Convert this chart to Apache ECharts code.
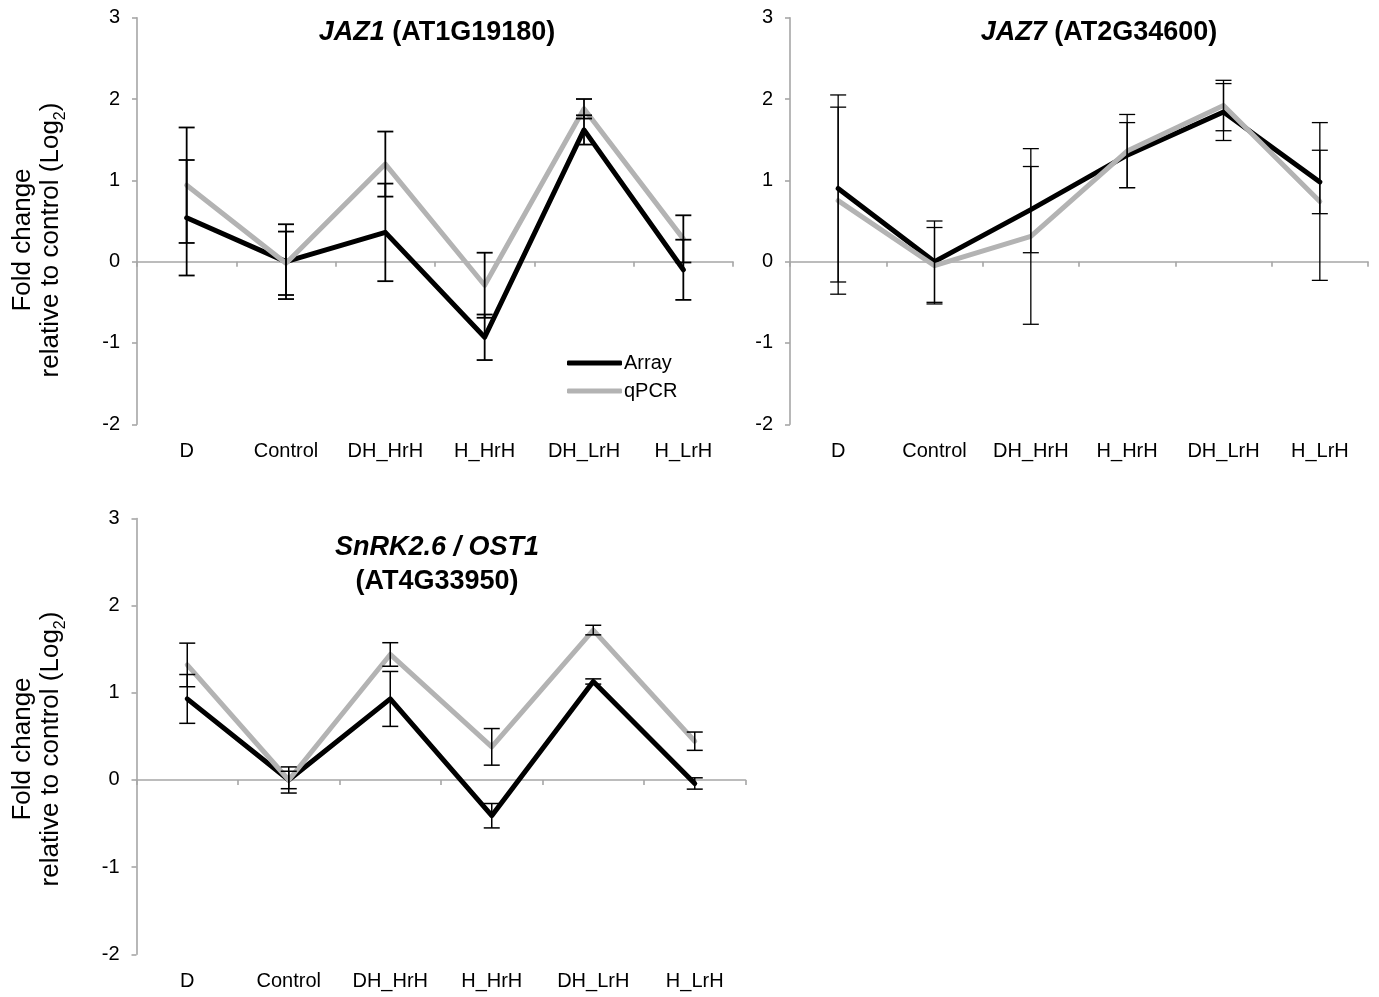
<!DOCTYPE html>
<html>
<head>
<meta charset="utf-8">
<script src="https://cdn.jsdelivr.net/npm/echarts@6/dist/echarts.min.js"></script>
<style>
html,body{margin:0;padding:0;background:#fff;}
#chart{width:1379px;height:997px;}
</style>
</head>
<body>
<div id="chart"></div>
<script>
// ---------- DATA ----------
const categories = ['D', 'Control', 'DH_HrH', 'H_HrH', 'DH_LrH', 'H_LrH'];
const yTicks = [-2, -1, 0, 1, 2, 3];

// JAZ1 (AT1G19180)
const jaz1Array    = [0.54, 0.00, 0.36, -0.93, 1.62, -0.10];
const jaz1ArrayErr = [0.71, 0.46, 0.60, 0.28, 0.18, 0.37];
const jaz1Qpcr     = [0.94, -0.02, 1.20, -0.29, 1.88, 0.28];
const jaz1QpcrErr  = [0.71, 0.39, 0.40, 0.40, 0.12, 0.29];

// JAZ7 (AT2G34600)
const jaz7Array    = [0.90, 0.00, 0.64, 1.31, 1.84, 0.98];
const jaz7ArrayErr = [1.15, 0.50, 0.53, 0.40, 0.35, 0.39];
const jaz7Qpcr     = [0.75, -0.05, 0.31, 1.36, 1.92, 0.74];
const jaz7QpcrErr  = [1.15, 0.47, 1.08, 0.45, 0.31, 0.97];

// SnRK2.6 / OST1 (AT4G33950)
const ost1Array    = [0.93, 0.00, 0.93, -0.41, 1.13, -0.04];
const ost1ArrayErr = [0.28, 0.15, 0.315, 0.14, 0.03, 0.065];
const ost1Qpcr     = [1.32, 0.00, 1.44, 0.38, 1.72, 0.445];
const ost1QpcrErr  = [0.25, 0.10, 0.135, 0.21, 0.055, 0.105];

const seriesNames = ['Array', 'qPCR'];

// ---------- LAYOUT / STYLE ----------
const FONT = "'Liberation Sans', Arial, sans-serif";
const BLACK = '#000000';
const GRAY = '#b3b3b3';
const AXIS = '#a6a6a6';

const panels = [
  { grid: { left: 137, top: 17.7, width: 596, height: 406.6 },
    array: jaz1Array, arrayErr: jaz1ArrayErr, qpcr: jaz1Qpcr, qpcrErr: jaz1QpcrErr, errW: 1.8 },
  { grid: { left: 790, top: 17.7, width: 578, height: 406.6 },
    array: jaz7Array, arrayErr: jaz7ArrayErr, qpcr: jaz7Qpcr, qpcrErr: jaz7QpcrErr, errW: 1.3 },
  { grid: { left: 136.5, top: 518.5, width: 609, height: 435.8 },
    array: ost1Array, arrayErr: ost1ArrayErr, qpcr: ost1Qpcr, qpcrErr: ost1QpcrErr, errW: 1.5 }
];

function errRender(lw) {
  return function (params, api) {
    const i = api.value(0);
    const lo = api.coord([i, api.value(1)]);
    const hi = api.coord([i, api.value(2)]);
    const hw = 8;
    const st = { stroke: '#000', lineWidth: lw };
    return {
      type: 'group',
      children: [
        { type: 'line', shape: { x1: lo[0], y1: lo[1], x2: hi[0], y2: hi[1] }, style: st },
        { type: 'line', shape: { x1: hi[0] - hw, y1: hi[1], x2: hi[0] + hw, y2: hi[1] }, style: st },
        { type: 'line', shape: { x1: lo[0] - hw, y1: lo[1], x2: lo[0] + hw, y2: lo[1] }, style: st }
      ]
    };
  };
}

const grid = [], xAxis = [], yAxis = [], series = [];
panels.forEach((p, g) => {
  grid.push(Object.assign({ containLabel: false }, p.grid));
  // zero line axis with ticks
  xAxis.push({
    type: 'category', gridIndex: g, data: categories, boundaryGap: true,
    axisLine: { show: true, onZero: true, lineStyle: { color: AXIS, width: 1.6 } },
    axisTick: { show: true, length: 5, interval: 0, lineStyle: { color: AXIS, width: 1.6 } },
    axisLabel: { show: false }, splitLine: { show: false }
  });
  // bottom label axis
  xAxis.push({
    type: 'category', gridIndex: g, data: categories, boundaryGap: true, position: 'bottom',
    axisLine: { show: false, onZero: false }, axisTick: { show: false },
    axisLabel: { show: true, interval: 0, hideOverlap: false, margin: 17, fontSize: 20, fontFamily: FONT, color: '#000' },
    splitLine: { show: false }
  });
  yAxis.push({
    type: 'value', gridIndex: g, min: yTicks[0], max: yTicks[yTicks.length - 1], interval: 1,
    axisLine: { show: true, lineStyle: { color: AXIS, width: 1.6 } },
    axisTick: { show: true, length: 5, lineStyle: { color: AXIS, width: 1.6 } },
    axisLabel: { show: true, margin: 17, fontSize: 20, fontFamily: FONT, color: '#000' },
    splitLine: { show: false }
  });
  const xi = g * 2;
  series.push({
    name: seriesNames[0], type: 'line', xAxisIndex: xi, yAxisIndex: g, data: p.array,
    showSymbol: false, symbol: 'none', color: BLACK,
    lineStyle: { color: BLACK, width: 5, join: 'round', cap: 'round' }, z: 2, animation: false
  });
  series.push({
    name: seriesNames[1], type: 'line', xAxisIndex: xi, yAxisIndex: g, data: p.qpcr,
    showSymbol: false, symbol: 'none', color: GRAY,
    lineStyle: { color: GRAY, width: 5, join: 'round', cap: 'round' }, z: 3, animation: false
  });
  series.push({
    type: 'custom', xAxisIndex: xi, yAxisIndex: g, renderItem: errRender(p.errW), z: 5,
    data: p.array.map((v, i) => [i, v - p.arrayErr[i], v + p.arrayErr[i]]),
    encode: { x: 0, y: [1, 2] }, animation: false, silent: true
  });
  series.push({
    type: 'custom', xAxisIndex: xi, yAxisIndex: g, renderItem: errRender(p.errW), z: 5,
    data: p.qpcr.map((v, i) => [i, v - p.qpcrErr[i], v + p.qpcrErr[i]]),
    encode: { x: 0, y: [1, 2] }, animation: false, silent: true
  });
});

const titleRich = {
  i: { fontSize: 27, fontWeight: 'bold', fontStyle: 'italic', fontFamily: FONT, fill: '#000' },
  b: { fontSize: 27, fontWeight: 'bold', fontFamily: FONT, fill: '#000' }
};
function titleText(x, y, text) {
  return { type: 'text', x: x, y: y, z: 100, silent: true,
    style: { text: text, align: 'center', verticalAlign: 'middle', rich: titleRich,
             fontSize: 27, fontWeight: 'bold', fontFamily: FONT, fill: '#000' } };
}
function yName(x, y) {
  return { type: 'text', x: x, y: y, rotation: Math.PI / 2, z: 100, silent: true,
    style: { text: 'Fold change\nrelative to control (Log{sub|2})', align: 'center', verticalAlign: 'middle',
             fontSize: 26, fontFamily: FONT, fill: '#000', lineHeight: 28,
             rich: { sub: { fontSize: 16, fontFamily: FONT, fill: '#000', verticalAlign: 'bottom', lineHeight: 16, padding: [0, 0, -4, 0] } } } };
}

const option = {
  animation: false,
  backgroundColor: '#ffffff',
  textStyle: { fontFamily: FONT },
  grid: grid, xAxis: xAxis, yAxis: yAxis, series: series,
  legend: {
    data: seriesNames, orient: 'vertical', left: 562, top: 348,
    icon: 'roundRect', itemWidth: 55, itemHeight: 5, itemGap: 8,
    textStyle: { fontSize: 20, fontFamily: FONT, color: '#000', padding: [0, 0, 0, -3] }, selectedMode: false
  },
  graphic: [
    titleText(437, 33, '{i|JAZ1} {b|(AT1G19180)}'),
    titleText(1099, 33, '{i|JAZ7} {b|(AT2G34600)}'),
    titleText(437, 548, '{i|SnRK2.6 / OST1}'),
    titleText(437, 582, '{b|(AT4G33950)}'),
    yName(37, 240),
    yName(37, 749)
  ]
};

const chart = echarts.init(document.getElementById('chart'), null, { renderer: 'canvas' });
chart.setOption(option);
</script>
</body>
</html>
